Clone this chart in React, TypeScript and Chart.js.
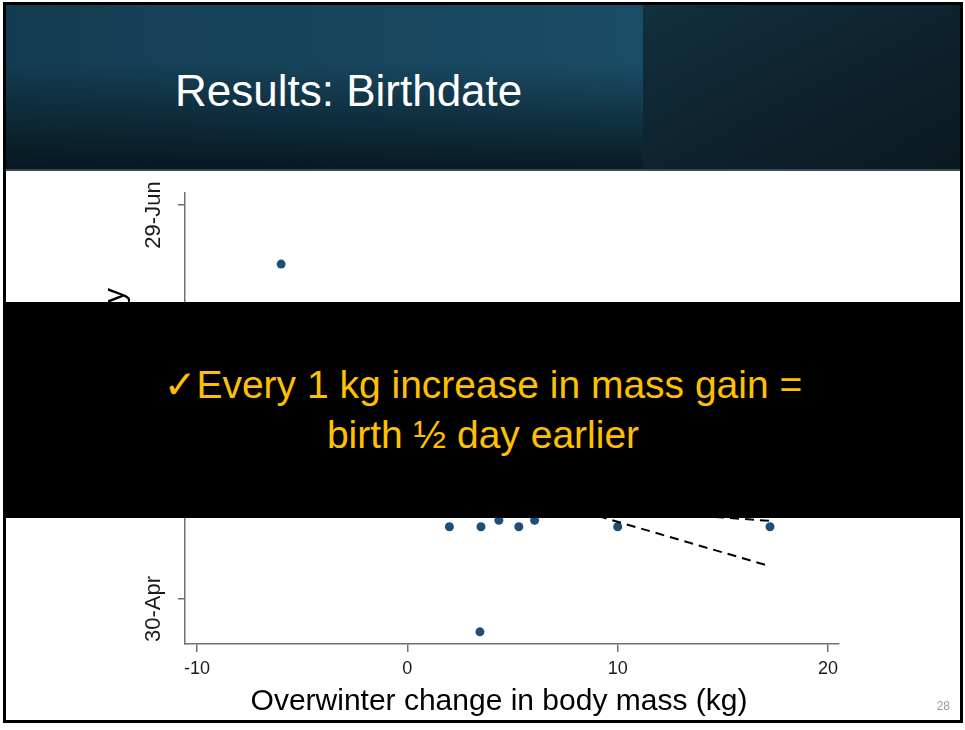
import React, { useEffect, useRef } from 'react';
import { Chart, registerables } from 'chart.js';

Chart.register(...registerables);

// ---- data ----
const massChange = [-6, 2, 3.5, 4.35, 5.3, 6.05, 10, 17.24, 3.45];
const birthDay = [171, 131, 131, 132, 131, 132, 131, 131, 115];
const boundX = [-6, 17.24];
const lowerBoundDay = [146.7, 125.0];
const upperBoundDay = [137.2, 131.9];
const xTickValues = [-10, 0, 10, 20];
const yTickValues = [120, 180];
const yTickLabels = ['30-Apr', '29-Jun'];
const xAxisTitle = 'Overwinter change in body mass (kg)';
const yAxisTitle = 'Calf birthday';
const slideTitle = 'Results: Birthdate';
const calloutLines = ['\u2713Every 1 kg increase in mass gain =', 'birth \u00BD day earlier'];
const pageNumber = '28';

const SANS = '"Liberation Sans", Arial, "DejaVu Sans", sans-serif';

function ScatterChart() {
  const ref = useRef<HTMLCanvasElement | null>(null);
  useEffect(() => {
    if (!ref.current) return;
    const axisColor = '#707070';
    const chart = new Chart(ref.current, {
      type: 'scatter',
      data: {
        datasets: [
          {
            label: 'Calves',
            data: massChange.map((x, i) => ({ x, y: birthDay[i] })),
            pointRadius: 4.5,
            pointBackgroundColor: '#1f4e79',
            pointBorderWidth: 0,
            order: 2,
          },
          {
            label: 'Lower bound',
            data: boundX.map((x, i) => ({ x, y: lowerBoundDay[i] })),
            showLine: true,
            borderColor: '#000000',
            borderWidth: 2,
            borderDash: [9, 6],
            pointRadius: 0,
            fill: false,
            order: 1,
          },
          {
            label: 'Upper bound',
            data: boundX.map((x, i) => ({ x, y: upperBoundDay[i] })),
            showLine: true,
            borderColor: '#000000',
            borderWidth: 2,
            borderDash: [9, 6],
            pointRadius: 0,
            fill: false,
            order: 1,
          },
        ],
      },
      options: {
        animation: false,
        responsive: true,
        maintainAspectRatio: false,
        layout: { padding: { left: 0, top: 22, right: 121, bottom: 0 } },
        plugins: { legend: { display: false }, tooltip: { enabled: false } },
        scales: {
          x: {
            type: 'linear',
            min: -10.57,
            max: 20.52,
            afterBuildTicks: (s: any) => {
              s.ticks = xTickValues.map((v) => ({ value: v }));
            },
            afterFit: (s: any) => {
              s.height = 75;
            },
            grid: { display: true, drawOnChartArea: false, drawTicks: true, tickLength: 8, color: axisColor, lineWidth: 1.5 },
            border: { display: true, color: axisColor, width: 1.5 },
            ticks: {
              color: '#1a1a1a',
              font: { family: SANS, size: 18 },
              padding: 6,
              maxRotation: 0,
              autoSkip: false,
            },
          },
          y: {
            type: 'linear',
            min: 113.15,
            max: 181.83,
            afterBuildTicks: (s: any) => {
              s.ticks = yTickValues.map((v) => ({ value: v }));
            },
            afterFit: (s: any) => {
              s.width = 179;
            },
            grid: { display: true, drawOnChartArea: false, drawTicks: true, tickLength: 7, color: axisColor, lineWidth: 1.5 },
            border: { display: true, color: axisColor, width: 1.5 },
            ticks: {
              callback: (v: any) => {
                const i = yTickValues.indexOf(Number(v));
                return i >= 0 ? yTickLabels[i] : '';
              },
              color: '#1a1a1a',
              font: { family: SANS, size: 22 },
              minRotation: 90,
              maxRotation: 90,
              crossAlign: 'center',
              padding: -10,
              labelOffset: 10,
              autoSkip: false,
            },
            title: { display: false },
          },
        },
      },
    } as any);
    return () => chart.destroy();
  }, []);
  return (
    <div style={{ position: 'absolute', left: 6, top: 171, width: 954, height: 548 }}>
      <canvas ref={ref} />
    </div>
  );
}

export default function App() {
  return (
    <div style={{ position: 'absolute', left: 0, top: 0, width: 965, height: 730, background: '#ffffff', overflow: 'hidden', fontFamily: SANS }}>
      {/* header */}
      <div
        style={{
          position: 'absolute', left: 6, top: 4, width: 637, height: 166,
          background: 'linear-gradient(to bottom, rgba(0,0,0,0) 35%, rgba(2,10,14,0.75) 100%), linear-gradient(to right, #143c50 0%, #1a4d66 100%)',
        }}
      />
      <div
        style={{
          position: 'absolute', left: 643, top: 4, width: 317, height: 166,
          background: 'linear-gradient(to bottom right, #12303f 0%, #0d202b 60%, #0b1920 100%)',
        }}
      />
      <div style={{ position: 'absolute', left: 6, top: 169, width: 954, height: 2, background: '#3a4a52' }} />
      <div style={{ position: 'absolute', left: 175, top: 69, fontSize: 44, lineHeight: '44px', color: '#ffffff', whiteSpace: 'nowrap' }}>
        {slideTitle}
      </div>

      <ScatterChart />

      {/* y-axis title (rotated), its end sits just above the callout box */}
      <div
        style={{
          position: 'absolute', left: 99, top: 548, width: 260, height: 30,
          transformOrigin: 'left top', transform: 'rotate(-90deg)',
          textAlign: 'right', fontSize: 30, lineHeight: '30px', color: '#000', whiteSpace: 'nowrap',
        }}
      >
        {yAxisTitle}
      </div>

      <div style={{ position: 'absolute', left: 149, top: 685, width: 700, textAlign: 'center', fontSize: 30, lineHeight: '30px', color: '#000', whiteSpace: 'nowrap' }}>
        {xAxisTitle}
      </div>
      <div style={{ position: 'absolute', right: 15, top: 700, fontSize: 12, lineHeight: '12px', color: '#999999' }}>{pageNumber}</div>

      {/* callout box */}
      <div style={{ position: 'absolute', left: 3, top: 302, width: 960, height: 216, background: '#000000' }} />
      <div style={{ position: 'absolute', left: 3, top: 360, width: 960, textAlign: 'center', fontSize: 39, lineHeight: '50px', color: '#FFC000', whiteSpace: 'nowrap' }}>
        {calloutLines.map((l, i) => (
          <div key={i}>{l}</div>
        ))}
      </div>

      {/* slide frame */}
      <div style={{ position: 'absolute', left: 3, top: 2, width: 960, height: 721, border: '3px solid #000', boxSizing: 'border-box', pointerEvents: 'none' }} />
    </div>
  );
}
